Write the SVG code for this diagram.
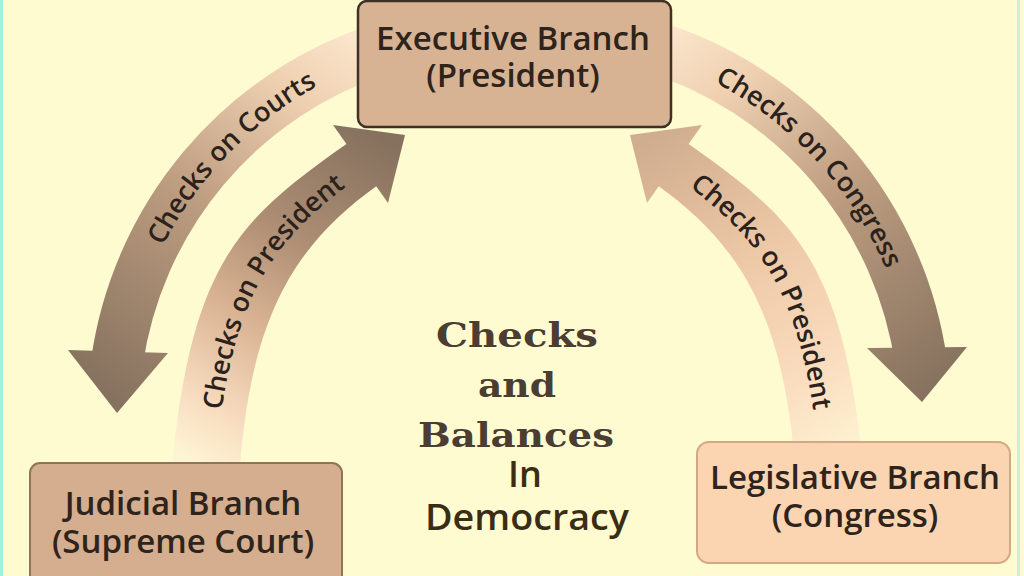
<svg xmlns="http://www.w3.org/2000/svg" width="1024" height="576" viewBox="0 0 1024 576">
<style>
.band{fill:none;stroke-width:52;stroke-linecap:butt}
.lbl{font-family:"Open Sans","Liberation Sans",sans-serif;font-weight:600;font-size:27px;fill:#2b221b}
.box{font-family:"Open Sans","Liberation Sans",sans-serif;font-weight:600;font-size:33px;fill:#2e241c;text-anchor:middle}
.slab{font-family:"DejaVu Serif","Liberation Serif",serif;font-weight:bold;font-size:34px;fill:#4b3d31;text-anchor:middle}
.demo{font-family:"Open Sans","Liberation Sans",sans-serif;font-weight:600;font-size:36px;fill:#3a2d14;text-anchor:middle}
</style>
<defs>
<linearGradient id="gOL" gradientUnits="userSpaceOnUse" x1="370" y1="50" x2="110" y2="400">
<stop offset="0" stop-color="#fbe5cb"/><stop offset="0.18" stop-color="#efd0b1"/><stop offset="0.5" stop-color="#bf9e81"/><stop offset="1" stop-color="#85715e"/>
</linearGradient>
<linearGradient id="gOR" gradientUnits="userSpaceOnUse" x1="655" y1="45" x2="925" y2="400">
<stop offset="0" stop-color="#fbe5cb"/><stop offset="0.18" stop-color="#efd0b1"/><stop offset="0.5" stop-color="#bf9e81"/><stop offset="1" stop-color="#85715e"/>
</linearGradient>
<linearGradient id="gIL" gradientUnits="userSpaceOnUse" x1="395" y1="145" x2="205" y2="468">
<stop offset="0" stop-color="#85715e"/><stop offset="0.35" stop-color="#ae8e74"/><stop offset="0.6" stop-color="#d9b393"/><stop offset="0.85" stop-color="#f8dcc0"/><stop offset="1" stop-color="#fdf4d3"/>
</linearGradient>
<linearGradient id="gIR" gradientUnits="userSpaceOnUse" x1="640" y1="145" x2="830" y2="468">
<stop offset="0" stop-color="#d0ad8f"/><stop offset="0.4" stop-color="#edc8a6"/><stop offset="0.75" stop-color="#fadcbe"/><stop offset="1" stop-color="#fdf4d3"/>
</linearGradient>
<path id="tOL" d="M 136.6 312.8 A 378 378 0 0 1 383.2 57.5"/>
<path id="tOR" d="M 666.6 60.9 A 379 379 0 0 1 903.1 318.9"/>
<path id="tIL" d="M215,466 C231,289 275,237 366,172"/>
<path id="tIR" d="M669,172 C760,237 804,289 820,466"/>
</defs>
<rect x="0" y="0" width="1024" height="576" fill="#fffbd1"/>
<rect x="0" y="0" width="3" height="576" fill="#a3eedd"/>
<rect x="1017" y="0" width="3" height="576" fill="#c9f0d6"/>

<g id="connectors">
<g id="checks-on-courts">
<path class="band" stroke="url(#gOL)" d="M 380.4 49.0 A 387 387 0 0 0 116.8 363.1"/>
<polygon points="68,350 168,353 117,413" fill="url(#gOL)"/>
<text class="lbl" text-anchor="middle"><textPath href="#tOL" startOffset="50%">Checks on Courts</textPath></text>
</g>
<g id="checks-on-congress">
<path class="band" stroke="url(#gOR)" d="M 650.4 45.9 A 388 388 0 0 1 921.2 363.0"/>
<polygon points="867,348 967,347 922,402" fill="url(#gOR)"/>
<text class="lbl" text-anchor="middle"><textPath href="#tOR" startOffset="50%">Checks on Congress</textPath></text>
</g>
<g id="judicial-checks-on-president">
<path fill="url(#gIL)" d="M172,466 C192,262 240,219 345,145 L351.5,140.4 L384.5,180.4 L378,185 C297,243 252,312 240,466 Z"/>
<polygon points="333,125 405,135 388,203" fill="url(#gIL)"/>
<text class="lbl" text-anchor="middle"><textPath href="#tIL" startOffset="54.5%">Checks on President</textPath></text>
</g>
<g id="legislative-checks-on-president">
<path fill="url(#gIR)" d="M863,466 C843,262 795,219 690,145 L683.5,140.4 L650.5,180.4 L657,185 C738,243 783,312 795,466 Z"/>
<polygon points="702,125 630,135 647,203" fill="url(#gIR)"/>
<text class="lbl" text-anchor="middle"><textPath href="#tIR" startOffset="45.5%">Checks on President</textPath></text>
</g>
</g>

<g id="executive">
<rect x="358" y="1" width="313" height="126" rx="9" fill="#d7b393" stroke="#3e3228" stroke-width="2.5"/>
<text class="box" x="513" y="50">Executive Branch</text>
<text class="box" x="513" y="87">(President)</text>
</g>
<g id="judicial">
<rect x="30" y="463" width="312" height="130" rx="10" fill="#d4ae8e" stroke="#8f735b" stroke-width="2"/>
<text class="box" x="183" y="515">Judicial Branch</text>
<text class="box" x="183" y="553">(Supreme Court)</text>
</g>
<g id="legislative">
<rect x="697" y="442" width="313" height="121" rx="12" fill="#fbd4b1" stroke="#d2a887" stroke-width="2"/>
<text class="box" x="855" y="489">Legislative Branch</text>
<text class="box" x="855" y="527">(Congress)</text>
</g>
<g id="title">
<text class="slab" x="517" y="347" textLength="162" lengthAdjust="spacingAndGlyphs">Checks</text>
<text class="slab" x="517" y="397" textLength="78" lengthAdjust="spacingAndGlyphs">and</text>
<text class="slab" x="516" y="447" textLength="196" lengthAdjust="spacingAndGlyphs">Balances</text>
<text class="demo" x="525" y="487">In</text>
<text class="demo" x="527" y="530" textLength="204" lengthAdjust="spacingAndGlyphs">Democracy</text>
</g>
</svg>
